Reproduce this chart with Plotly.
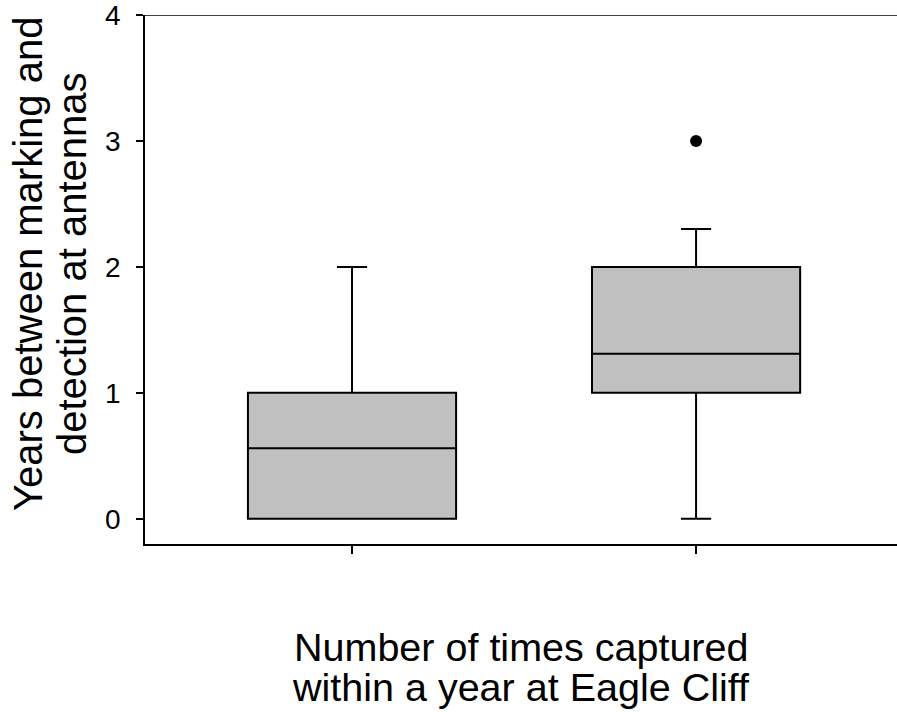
import plotly.graph_objects as go

# Summary statistics for the two capture groups
group_pos = [0, 1]
q1_vals = [0.0, 1.0]
median_vals = [0.56, 1.31]
q3_vals = [1.0, 2.0]
lower_whisker = [0.0, 0.0]
upper_whisker = [2.0, 2.3]

# Outlying observations
outlier_x = [1]
outlier_y = [3.0]

y_ticks = [0, 1, 2, 3, 4]

FONT = "Liberation Sans, Arial, sans-serif"

fig = go.Figure()

for i, pos in enumerate(group_pos):
    fig.add_trace(go.Box(
        x=[pos],
        q1=[q1_vals[i]],
        median=[median_vals[i]],
        q3=[q3_vals[i]],
        lowerfence=[lower_whisker[i]],
        upperfence=[upper_whisker[i]],
        width=0.605,
        whiskerwidth=0.145,
        fillcolor="#c0c0c0",
        line=dict(color="black", width=2),
        boxpoints=False,
        showlegend=False,
        hoverinfo="skip",
    ))

fig.add_trace(go.Scatter(
    x=outlier_x, y=outlier_y, mode="markers",
    marker=dict(color="black", size=12, line=dict(width=0)),
    showlegend=False, hoverinfo="skip",
))

# Top frame line
fig.add_shape(type="line", xref="paper", yref="y", x0=0, x1=1, y0=4, y1=4,
              line=dict(color="black", width=1.5))

fig.update_layout(
    width=897, height=712,
    margin=dict(l=145, r=0, t=15, b=168),
    paper_bgcolor="white", plot_bgcolor="white",
    font=dict(family=FONT, color="black"),
)

fig.update_xaxes(
    range=[-0.6017, 1.584],
    tickmode="array", tickvals=group_pos, showticklabels=False,
    ticks="outside", ticklen=8, tickwidth=1.5, tickcolor="black",
    showline=True, linecolor="black", linewidth=1.5,
    showgrid=False, zeroline=False,
)
fig.update_yaxes(
    range=[-0.2, 4],
    tickmode="array", tickvals=y_ticks, ticktext=[str(v) for v in y_ticks],
    ticks="outside", ticklen=7, tickwidth=1.5, tickcolor="black",
    tickfont=dict(size=28, family=FONT, color="black"),
    ticklabelstandoff=10, ticklabeloverflow="allow",
    showline=True, linecolor="black", linewidth=1.5,
    showgrid=False, zeroline=False,
)

# Axis titles, one annotation per line for tight line spacing
x_title = ["Number of times captured", "within a year at Eagle Cliff"]
y_title = ["Years between marking and", "detection at antennas"]

for k, line in enumerate(x_title):
    fig.add_annotation(
        text=line, xref="paper", yref="paper",
        x=(521 - 145) / (897 - 145), y=-(647 + 40 * k - 544) / (544 - 15),
        xanchor="center", yanchor="middle", showarrow=False,
        font=dict(size=39.5, family=FONT, color="black"),
    )
for k, line in enumerate(y_title):
    fig.add_annotation(
        text=line, xref="paper", yref="paper",
        x=-(145 - (28 + 44 * k)) / (897 - 145), y=(544 - 264) / (544 - 15),
        xanchor="center", yanchor="middle", textangle=-90, showarrow=False,
        font=dict(size=40, family=FONT, color="black"),
    )

fig.write_html("out.html")
